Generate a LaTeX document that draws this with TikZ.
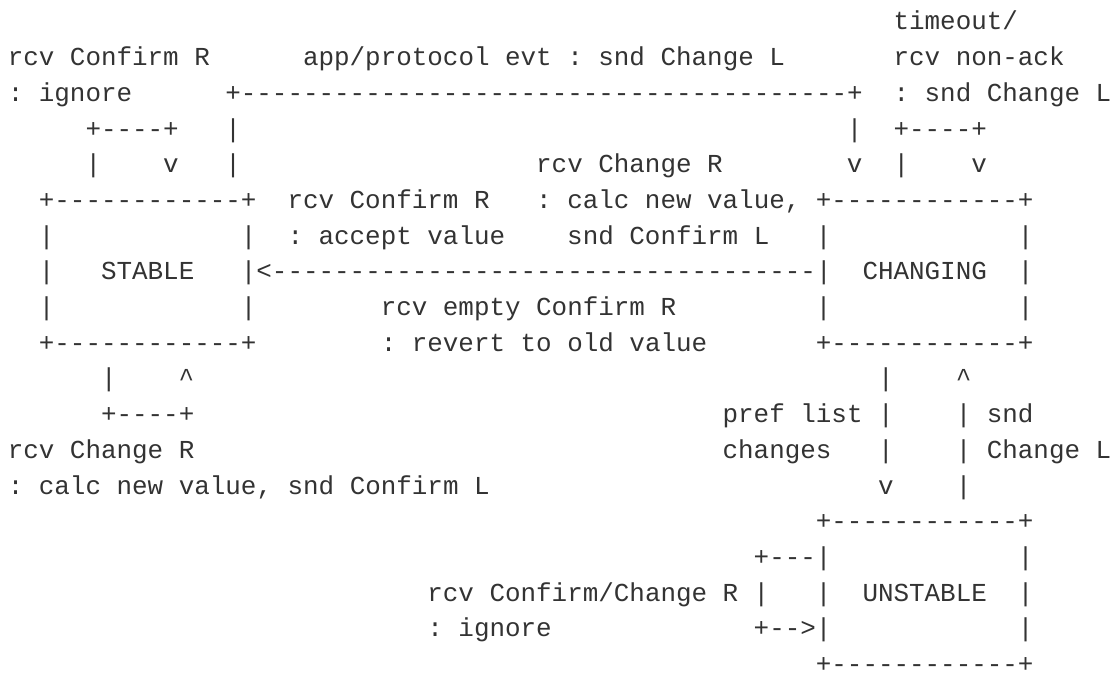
\documentclass[tikz,border=0pt]{standalone}
\usepackage{fontspec}
\setmonofont{Liberation Mono}
\definecolor{ink}{HTML}{333333}
\newcommand\asc[3]{\node[txt] (r#1c#2) at ({7.8+15.54*#2},{30+35.7*#1}) {#3};}
\begin{document}
\begin{tikzpicture}[x=0.75pt,y=-0.75pt,
  txt/.style={anchor=base west,inner sep=0pt,outer sep=0pt,text=ink,
    font=\ttfamily\fontsize{19.43pt}{20pt}\selectfont}]
\fill[white] (0,0) rectangle (1117,673);
\useasboundingbox (0,0) rectangle (1117,673);
% row 0
\asc{0}{57}{timeout/}
% row 1
\asc{1}{0}{rcv Confirm R}
\asc{1}{19}{app/protocol evt : snd Change L}
\asc{1}{57}{rcv non-ack}
% row 2
\asc{2}{0}{: ignore}
\asc{2}{14}{+---------------------------------------+}
\asc{2}{57}{: snd Change L}
% row 3
\asc{3}{5}{+----+}
\asc{3}{14}{|}
\asc{3}{54}{|}
\asc{3}{57}{+----+}
% row 4
\asc{4}{5}{|}
\asc{4}{10}{v}
\asc{4}{14}{|}
\asc{4}{34}{rcv Change R}
\asc{4}{54}{v}
\asc{4}{57}{|}
\asc{4}{62}{v}
% row 5
\asc{5}{2}{+------------+}
\asc{5}{18}{rcv Confirm R}
\asc{5}{34}{: calc new value,}
\asc{5}{52}{+------------+}
% row 6
\asc{6}{2}{|}
\asc{6}{15}{|}
\asc{6}{18}{: accept value}
\asc{6}{36}{snd Confirm L}
\asc{6}{52}{|}
\asc{6}{65}{|}
% row 7
\asc{7}{2}{|}
\asc{7}{6}{STABLE}
\asc{7}{15}{|<-----------------------------------|}
\asc{7}{55}{CHANGING}
\asc{7}{65}{|}
% row 8
\asc{8}{2}{|}
\asc{8}{15}{|}
\asc{8}{24}{rcv empty Confirm R}
\asc{8}{52}{|}
\asc{8}{65}{|}
% row 9
\asc{9}{2}{+------------+}
\asc{9}{24}{: revert to old value}
\asc{9}{52}{+------------+}
% row 10
\asc{10}{6}{|}
\asc{10}{11}{\textasciicircum}
\asc{10}{56}{|}
\asc{10}{61}{\textasciicircum}
% row 11
\asc{11}{6}{+----+}
\asc{11}{46}{pref list}
\asc{11}{56}{|}
\asc{11}{61}{|}
\asc{11}{63}{snd}
% row 12
\asc{12}{0}{rcv Change R}
\asc{12}{46}{changes}
\asc{12}{56}{|}
\asc{12}{61}{|}
\asc{12}{63}{Change L}
% row 13
\asc{13}{0}{: calc new value, snd Confirm L}
\asc{13}{56}{v}
\asc{13}{61}{|}
% row 14
\asc{14}{52}{+------------+}
% row 15
\asc{15}{48}{+---|}
\asc{15}{65}{|}
% row 16
\asc{16}{27}{rcv Confirm/Change R}
\asc{16}{48}{|}
\asc{16}{52}{|}
\asc{16}{55}{UNSTABLE}
\asc{16}{65}{|}
% row 17
\asc{17}{27}{: ignore}
\asc{17}{48}{+-->|}
\asc{17}{65}{|}
% row 18
\asc{18}{52}{+------------+}
\end{tikzpicture}
\end{document}
